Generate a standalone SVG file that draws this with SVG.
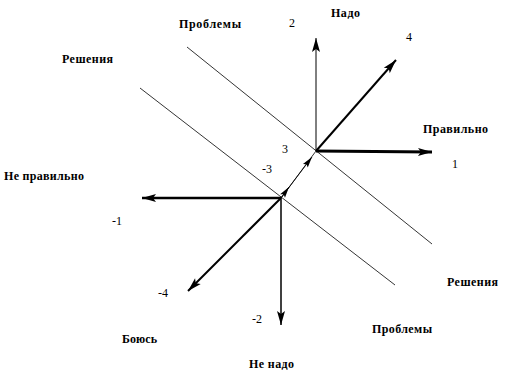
<svg xmlns="http://www.w3.org/2000/svg" width="514" height="373" viewBox="0 0 514 373">
<style>
.lbl{font-family:"Liberation Serif","Times New Roman",serif;font-weight:bold;font-size:12px;fill:#000}
.num{font-family:"Liberation Serif","Times New Roman",serif;font-size:12px;fill:#000}
.thin{stroke:#000;stroke-width:0.8;fill:none}
.arr{stroke:#000;fill:none;marker-end:url(#ah)}
</style>
<defs>
<marker id="ah" markerUnits="userSpaceOnUse" viewBox="-15 -5 16 10" refX="0" refY="0" markerWidth="16" markerHeight="10" orient="auto">
<path d="M0,0 L-14,-4 L-11,0 L-14,4 Z" fill="#000"/>
</marker>
<marker id="ahs" markerUnits="userSpaceOnUse" viewBox="-15 -5 16 10" refX="0" refY="0" markerWidth="16" markerHeight="10" orient="auto">
<path d="M0,0 L-11,-3 L-9,0 L-11,3 Z" fill="#000"/>
</marker>
</defs>
<rect width="514" height="373" fill="#fff"/>
<g id="connectors">
<line class="thin" x1="187" y1="47" x2="432" y2="244"/>
<line class="thin" x1="140" y1="88" x2="395" y2="285"/>
<line class="arr" x1="316" y1="151" x2="316" y2="38" stroke-width="1"/>
<line class="arr" x1="316" y1="151" x2="396" y2="60" stroke-width="2"/>
<line class="arr" x1="316" y1="151" x2="432" y2="152" stroke-width="3"/>
<line class="thin" x1="281" y1="198" x2="316" y2="151"/>
<line x1="281" y1="198" x2="312" y2="157" stroke="#000" stroke-width="0.8" marker-end="url(#ahs)"/>
<line x1="281" y1="198" x2="289" y2="187" stroke="#000" stroke-width="0.8" marker-end="url(#ahs)"/>
<line class="arr" x1="281" y1="198" x2="142" y2="198" stroke-width="2.5"/>
<line class="arr" x1="281" y1="198" x2="188" y2="291" stroke-width="2"/>
<line class="arr" x1="281" y1="198" x2="281" y2="325" stroke-width="1.5"/>
</g>
<g id="labels">
<text class="lbl" x="179" y="28" textLength="62" lengthAdjust="spacing">Проблемы</text>
<text class="num" x="289" y="27">2</text>
<text class="lbl" x="331" y="17" textLength="29" lengthAdjust="spacing">Надо</text>
<text class="num" x="406" y="41">4</text>
<text class="lbl" x="62" y="63" textLength="51" lengthAdjust="spacing">Решения</text>
<text class="lbl" x="423" y="133" textLength="65" lengthAdjust="spacing">Правильно</text>
<text class="num" x="452" y="168">1</text>
<text class="num" x="282" y="153">3</text>
<text class="num" x="262" y="173">-3</text>
<text class="lbl" x="4" y="180" textLength="80" lengthAdjust="spacing">Не правильно</text>
<text class="num" x="112" y="225">-1</text>
<text class="num" x="158" y="297">-4</text>
<text class="num" x="252" y="323">-2</text>
<text class="lbl" x="122" y="343" textLength="35" lengthAdjust="spacing">Боюсь</text>
<text class="lbl" x="249" y="368" textLength="45" lengthAdjust="spacing">Не надо</text>
<text class="lbl" x="447" y="286" textLength="51" lengthAdjust="spacing">Решения</text>
<text class="lbl" x="372" y="333" textLength="60" lengthAdjust="spacing">Проблемы</text>
</g>
</svg>
